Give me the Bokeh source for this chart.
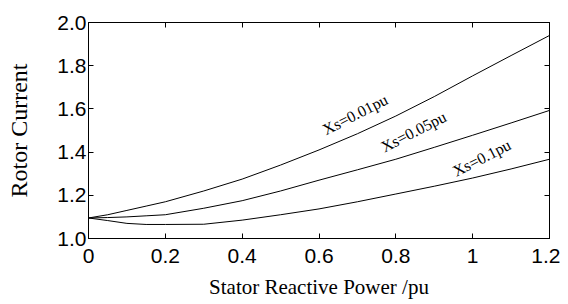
from bokeh.plotting import figure
from bokeh.models import LinearAxis, FixedTicker, NumeralTickFormatter, Range1d, CustomJSTickFormatter
from bokeh.embed import file_html
from bokeh.resources import INLINE
from bokeh.core.properties import value
import math

# Data
q = [0.0, 0.05, 0.1, 0.15, 0.2, 0.3, 0.4, 0.5, 0.6, 0.7, 0.8, 0.9, 1.0, 1.1, 1.2]
i_xs001 = [1.095, 1.11, 1.13, 1.15, 1.17, 1.22, 1.275, 1.34, 1.41, 1.485, 1.567, 1.657, 1.753, 1.847, 1.94]
i_xs005 = [1.095, 1.097, 1.10, 1.105, 1.11, 1.14, 1.175, 1.22, 1.27, 1.318, 1.367, 1.422, 1.478, 1.535, 1.593]
i_xs01 = [1.095, 1.083, 1.07, 1.065, 1.065, 1.066, 1.085, 1.11, 1.137, 1.17, 1.206, 1.242, 1.28, 1.322, 1.367]

labels = ["Xs=0.01pu", "Xs=0.05pu", "Xs=0.1pu"]
label_x = [0.612, 0.764, 0.951]
label_y = [1.50, 1.42, 1.307]

x_ticks = [0, 0.2, 0.4, 0.6, 0.8, 1.0, 1.2]
y_ticks = [1.0, 1.2, 1.4, 1.6, 1.8, 2.0]

W, H = 560, 302
p = figure(width=W, height=H, output_backend="svg", toolbar_location=None,
           x_range=Range1d(0, 1.2), y_range=Range1d(1.0, 2.0),
           min_border_left=88, min_border_right=W - 549,
           min_border_top=22, min_border_bottom=H - 238)
p.background_fill_color = "white"
p.border_fill_color = "white"
p.outline_line_color = "black"
p.outline_line_width = 1
p.xgrid.visible = False
p.ygrid.visible = False

for ys in (i_xs001, i_xs005, i_xs01):
    p.line(q, ys, line_color="black", line_width=1)

p.text(x=label_x, y=label_y, text=labels, angle=math.radians(27),
       text_font=value("Liberation Serif"), text_font_size="16px",
       text_align="left", text_baseline="alphabetic", text_color="black")

def style(ax, ticks, fmt):
    ax.ticker = FixedTicker(ticks=ticks)
    ax.formatter = fmt
    ax.major_tick_in = 5
    ax.major_tick_out = 0
    ax.minor_tick_in = 0
    ax.minor_tick_out = 0
    ax.axis_line_color = "black"
    ax.major_tick_line_color = "black"
    ax.major_label_text_font = "Liberation Sans"
    ax.major_label_text_font_size = "21px"
    ax.major_label_text_color = "black"
    ax.major_label_text_line_height = 1.0

xa = p.xaxis[0]
ya = p.yaxis[0]
style(xa, x_ticks, NumeralTickFormatter(format="0.[0]"))
style(ya, y_ticks, NumeralTickFormatter(format="0.0"))
xa.major_label_standoff = 10
ya.major_label_standoff = 2
xa.axis_label = "Stator Reactive Power /pu"
ya.axis_label = "Rotor Current"
for ax in (xa, ya):
    ax.axis_label_text_font = "Liberation Serif"
    ax.axis_label_text_font_style = "normal"
    ax.axis_label_text_color = "black"
    ax.axis_label_text_line_height = 1.0
xa.axis_label_text_font_size = "21px"
ya.axis_label_text_font_size = "24px"
xa.axis_label_standoff = 9
ya.axis_label_standoff = 22

top = LinearAxis()
style(top, x_ticks, CustomJSTickFormatter(code="return '';"))
top.major_label_standoff = 0
p.add_layout(top, "above")
right = LinearAxis()
style(right, y_ticks, CustomJSTickFormatter(code="return '';"))
right.major_label_standoff = 0
p.add_layout(right, "right")

open("out.html", "w").write(file_html(p, INLINE))
